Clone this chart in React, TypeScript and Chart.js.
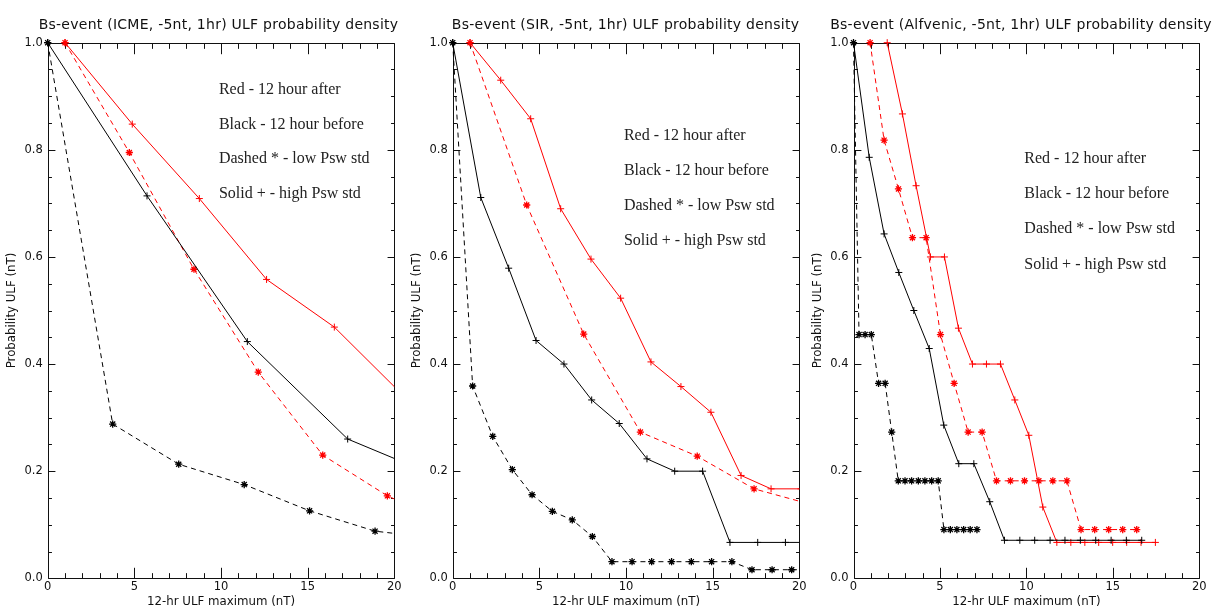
import { useEffect, useRef } from "react";
import { Chart, registerables } from "chart.js";

Chart.register(...registerables);

// ---------- text ----------
const panelTitles = [
  "Bs-event (ICME, -5nt, 1hr) ULF probability density",
  "Bs-event (SIR, -5nt, 1hr) ULF probability density",
  "Bs-event (Alfvenic, -5nt, 1hr) ULF probability density",
];
const legendLines = [
  "Red - 12 hour after",
  "Black - 12 hour before",
  "Dashed * - low Psw std",
  "Solid + - high Psw std",
];
const xAxisTitle = "12-hr ULF maximum (nT)";
const yAxisTitle = "Probability ULF (nT)";

// ---------- ticks ----------
const xMajorTicks = [0, 5, 10, 15, 20];
const yMajorTicks = [0, 0.2, 0.4, 0.6, 0.8, 1.0];

// ---------- ICME ----------
const icmeAfterHighX = [1.0, 4.88, 8.75, 12.63, 16.54, 20.4];
const icmeAfterHighY = [1.0, 0.848, 0.709, 0.558, 0.469, 0.345];
const icmeAfterLowX = [1.0, 4.71, 8.44, 12.15, 15.87, 19.6, 23.3];
const icmeAfterLowY = [1.0, 0.795, 0.577, 0.385, 0.23, 0.154, 0.1];
const icmeBeforeHighX = [0, 5.73, 11.52, 17.31, 23.1];
const icmeBeforeHighY = [1.0, 0.714, 0.442, 0.26, 0.182];
const icmeBeforeLowX = [0, 3.75, 7.56, 11.34, 15.11, 18.89, 22.66];
const icmeBeforeLowY = [1.0, 0.288, 0.213, 0.175, 0.126, 0.088, 0.074];

// ---------- SIR ----------
const sirAfterHighX = [1.0, 2.77, 4.5, 6.23, 7.98, 9.69, 11.44, 13.17, 14.9, 16.64, 18.37, 20.1];
const sirAfterHighY = [1.0, 0.93, 0.858, 0.69, 0.596, 0.523, 0.404, 0.358, 0.31, 0.192, 0.167, 0.167];
const sirAfterLowX = [1.0, 4.27, 7.56, 10.83, 14.11, 17.39, 20.67];
const sirAfterLowY = [1.0, 0.697, 0.456, 0.273, 0.228, 0.167, 0.138];
const sirBeforeHighX = [0, 1.62, 3.23, 4.81, 6.42, 8.02, 9.61, 11.21, 12.81, 14.42, 16.0, 17.6, 19.2, 20.8];
const sirBeforeHighY = [1.0, 0.711, 0.579, 0.444, 0.4, 0.333, 0.289, 0.223, 0.2, 0.2, 0.067, 0.067, 0.067, 0.067];
const sirBeforeLowX = [0, 1.15, 2.31, 3.44, 4.58, 5.75, 6.9, 8.06, 9.19, 10.35, 11.48, 12.63, 13.77, 14.94, 16.11, 17.27, 18.43, 19.56, 20.72];
const sirBeforeLowY = [1.0, 0.359, 0.265, 0.203, 0.156, 0.125, 0.109, 0.078, 0.031, 0.031, 0.031, 0.031, 0.031, 0.031, 0.031, 0.016, 0.016, 0.016, 0.016];

// ---------- Alfvenic ----------
const alfAfterHighX = [1.95, 2.83, 3.62, 4.45, 5.26, 6.07, 6.88, 7.69, 8.5, 9.33, 10.14, 10.95, 11.76, 12.57, 13.38, 14.18, 14.99, 15.8, 16.63, 17.46];
const alfAfterHighY = [1.0, 0.867, 0.733, 0.6, 0.6, 0.467, 0.4, 0.4, 0.4, 0.333, 0.267, 0.133, 0.067, 0.067, 0.067, 0.067, 0.067, 0.067, 0.067, 0.067];
const alfAfterLowX = [0.96, 1.77, 2.6, 3.41, 4.2, 5.03, 5.82, 6.63, 7.44, 8.27, 9.08, 9.89, 10.72, 11.53, 12.34, 13.16, 13.95, 14.76, 15.57, 16.38];
const alfAfterLowY = [1.0, 0.818, 0.727, 0.636, 0.636, 0.455, 0.364, 0.273, 0.273, 0.182, 0.182, 0.182, 0.182, 0.182, 0.182, 0.091, 0.091, 0.091, 0.091, 0.091];
const alfBeforeHighX = [0, 0.91, 1.77, 2.62, 3.49, 4.38, 5.22, 6.09, 6.96, 7.88, 8.73, 9.62, 10.48, 11.37, 12.23, 13.12, 14.01, 14.9, 15.78, 16.67];
const alfBeforeHighY = [1.0, 0.786, 0.643, 0.571, 0.5, 0.429, 0.286, 0.214, 0.214, 0.143, 0.071, 0.071, 0.071, 0.071, 0.071, 0.071, 0.071, 0.071, 0.071, 0.071];
const alfBeforeLowX = [0, 0.32, 0.67, 1.03, 1.45, 1.83, 2.21, 2.59, 2.98, 3.36, 3.75, 4.13, 4.52, 4.9, 5.23, 5.6, 5.98, 6.37, 6.75, 7.14];
const alfBeforeLowY = [1.0, 0.455, 0.455, 0.455, 0.364, 0.364, 0.273, 0.182, 0.182, 0.182, 0.182, 0.182, 0.182, 0.182, 0.091, 0.091, 0.091, 0.091, 0.091, 0.091];

const RED = "#ff0000";
const BLACK = "#000000";
const AXIS_FONT = '"DejaVu Sans", sans-serif';
const SERIF_FONT = '"Liberation Serif", "Times New Roman", serif';

type Series = { xs: number[]; ys: number[]; color: string; dashed: boolean };

type Panel = {
  title: string;
  titleShift: number;
  left: number;
  width: number;
  yAxisWidth: number;
  rightPad: number;
  yTitlePad: number;
  legendX: number;
  legendY: number;
  legendStep: number;
  series: Series[];
};

const H = 607;

const panels: Panel[] = [
  {
    title: panelTitles[0],
    titleShift: -2.5,
    left: 0,
    width: 405,
    yAxisWidth: 47.7,
    rightPad: 10.7,
    yTitlePad: 5,
    legendX: 9.88,
    legendY: 0.904,
    legendStep: 0.0644,
    series: [
      { xs: icmeBeforeLowX, ys: icmeBeforeLowY, color: BLACK, dashed: true },
      { xs: icmeBeforeHighX, ys: icmeBeforeHighY, color: BLACK, dashed: false },
      { xs: icmeAfterLowX, ys: icmeAfterLowY, color: RED, dashed: true },
      { xs: icmeAfterHighX, ys: icmeAfterHighY, color: RED, dashed: false },
    ],
  },
  {
    title: panelTitles[1],
    titleShift: -0.5,
    left: 405,
    width: 405,
    yAxisWidth: 47.7,
    rightPad: 10.7,
    yTitlePad: 5,
    legendX: 9.88,
    legendY: 0.818,
    legendStep: 0.065,
    series: [
      { xs: sirBeforeLowX, ys: sirBeforeLowY, color: BLACK, dashed: true },
      { xs: sirBeforeHighX, ys: sirBeforeHighY, color: BLACK, dashed: false },
      { xs: sirAfterLowX, ys: sirAfterLowY, color: RED, dashed: true },
      { xs: sirAfterHighX, ys: sirAfterHighY, color: RED, dashed: false },
    ],
  },
  {
    title: panelTitles[2],
    titleShift: -5.4,
    left: 810,
    width: 409,
    yAxisWidth: 43.5,
    rightPad: 19.7,
    yTitlePad: 1,
    legendX: 9.88,
    legendY: 0.776,
    legendStep: 0.066,
    series: [
      { xs: alfBeforeLowX, ys: alfBeforeLowY, color: BLACK, dashed: true },
      { xs: alfBeforeHighX, ys: alfBeforeHighY, color: BLACK, dashed: false },
      { xs: alfAfterLowX, ys: alfAfterLowY, color: RED, dashed: true },
      { xs: alfAfterHighX, ys: alfAfterHighY, color: RED, dashed: false },
    ],
  },
];

function makeFramePlugin(panel: Panel) {
  return {
    id: "idlFrame",
    beforeDatasetsDraw(chart: any) {
      const { ctx, chartArea: a } = chart;
      const xs = chart.scales.x;
      const ys = chart.scales.y;
      const w = a.right - a.left;
      const h = a.bottom - a.top;
      const xMaj = 0.02 * h;
      const yMaj = 0.02 * w;
      const L = Math.round(a.left) + 0.5;
      const R = Math.round(a.right) + 0.5;
      const T = Math.round(a.top) + 0.5;
      const B = Math.round(a.bottom) + 0.5;
      ctx.save();
      ctx.strokeStyle = "#111";
      ctx.lineWidth = 1;
      ctx.beginPath();
      ctx.rect(L, T, R - L, B - T);
      // x ticks: major every 5, minor every 1
      for (let i = 0; i <= 20; i++) {
        const px = Math.round(xs.getPixelForValue(i)) + 0.5;
        const len = i % 5 === 0 ? xMaj : xMaj / 2;
        ctx.moveTo(px, B);
        ctx.lineTo(px, B - len);
        ctx.moveTo(px, T);
        ctx.lineTo(px, T + len);
      }
      // y ticks: major every 0.2, minor every 0.05
      for (let i = 0; i <= 20; i++) {
        const py = Math.round(ys.getPixelForValue(i * 0.05)) + 0.5;
        const len = i % 4 === 0 ? yMaj : yMaj / 2;
        ctx.moveTo(L, py);
        ctx.lineTo(L + len, py);
        ctx.moveTo(R, py);
        ctx.lineTo(R - len, py);
      }
      ctx.stroke();
      ctx.restore();
    },
    afterDraw(chart: any) {
      const { ctx, chartArea: a } = chart;
      const xs = chart.scales.x;
      const ys = chart.scales.y;
      ctx.save();
      // title
      ctx.fillStyle = "#111";
      ctx.font = `14px ${AXIS_FONT}`;
      try {
        (ctx as any).letterSpacing = "0.25px";
      } catch (e) {}
      ctx.textAlign = "center";
      ctx.textBaseline = "alphabetic";
      ctx.fillText(panel.title, (a.left + a.right) / 2 + panel.titleShift, 28.5);
      try {
        (ctx as any).letterSpacing = "0px";
      } catch (e) {}
      // annotation text
      ctx.font = `16px ${SERIF_FONT}`;
      ctx.textAlign = "left";
      ctx.fillStyle = "#222";
      const lx = xs.getPixelForValue(panel.legendX);
      legendLines.forEach((t, i) => {
        const ly = ys.getPixelForValue(panel.legendY - i * panel.legendStep);
        ctx.fillText(t, lx, ly);
      });
      ctx.restore();
    },
  };
}

function PanelChart({ panel }: { panel: Panel }) {
  const ref = useRef<HTMLCanvasElement | null>(null);
  useEffect(() => {
    if (!ref.current) return;
    const datasets = panel.series.map((s) => ({
      data: s.xs.map((x, i) => ({ x, y: s.ys[i] })),
      borderColor: s.color,
      backgroundColor: s.color,
      borderWidth: 1,
      borderDash: s.dashed ? [5, 4] : [],
      pointStyle: s.dashed ? "star" : "cross",
      pointRadius: s.dashed ? 3.6 : 3.5,
      pointBorderWidth: s.dashed ? 1.3 : 1,
      pointBorderColor: s.color,
      pointBackgroundColor: s.color,
      tension: 0,
      fill: false,
      clip: { left: 6, top: 6, right: 0, bottom: 6 },
    }));
    const chart = new Chart(ref.current, {
      type: "line",
      data: { datasets },
      options: {
        animation: false,
        responsive: false,
        maintainAspectRatio: false,
        devicePixelRatio: 1,
        layout: { padding: { left: 0, top: 42.7, right: panel.rightPad, bottom: 0 } },
        plugins: { legend: { display: false }, tooltip: { enabled: false }, title: { display: false } },
        events: [],
        scales: {
          x: {
            type: "linear",
            min: 0,
            max: 20,
            afterBuildTicks: (scale: any) => {
              scale.ticks = xMajorTicks.map((v) => ({ value: v }));
            },
            ticks: {
              color: "#111",
              font: { family: AXIS_FONT, size: 11.5 },
              padding: 2,
              maxRotation: 0,
              callback: (v: any) => String(v),
            },
            grid: { display: false, drawTicks: false },
            border: { display: false },
            title: {
              display: true,
              text: xAxisTitle,
              color: "#111",
              font: { family: AXIS_FONT, size: 11.8 },
              padding: { top: 0, bottom: -2.5 },
            },
            afterFit: (scale: any) => {
              scale.height = 28.7;
            },
          },
          y: {
            type: "linear",
            min: 0,
            max: 1,
            afterBuildTicks: (scale: any) => {
              scale.ticks = yMajorTicks.map((v) => ({ value: v }));
            },
            ticks: {
              color: "#111",
              font: { family: AXIS_FONT, size: 11.5 },
              padding: 5,
              callback: (v: any) => Number(v).toFixed(1),
            },
            grid: { display: false, drawTicks: false },
            border: { display: false },
            title: {
              display: true,
              text: yAxisTitle,
              color: "#111",
              font: { family: AXIS_FONT, size: 11.8 },
              padding: { top: panel.yTitlePad, bottom: 0 },
            },
            afterFit: (scale: any) => {
              scale.width = panel.yAxisWidth;
            },
          },
        },
      } as any,
      plugins: [makeFramePlugin(panel)],
    });
    return () => chart.destroy();
  }, [panel]);
  return (
    <canvas
      ref={ref}
      width={panel.width}
      height={H}
      style={{ position: "absolute", left: panel.left, top: 0, width: panel.width, height: H, display: "block" }}
    />
  );
}

export default function App() {
  return (
    <div style={{ position: "absolute", left: 0, top: 0, width: 1219, height: H, background: "#fff", overflow: "hidden" }}>
      {panels.map((p, i) => (
        <PanelChart key={i} panel={p} />
      ))}
    </div>
  );
}
